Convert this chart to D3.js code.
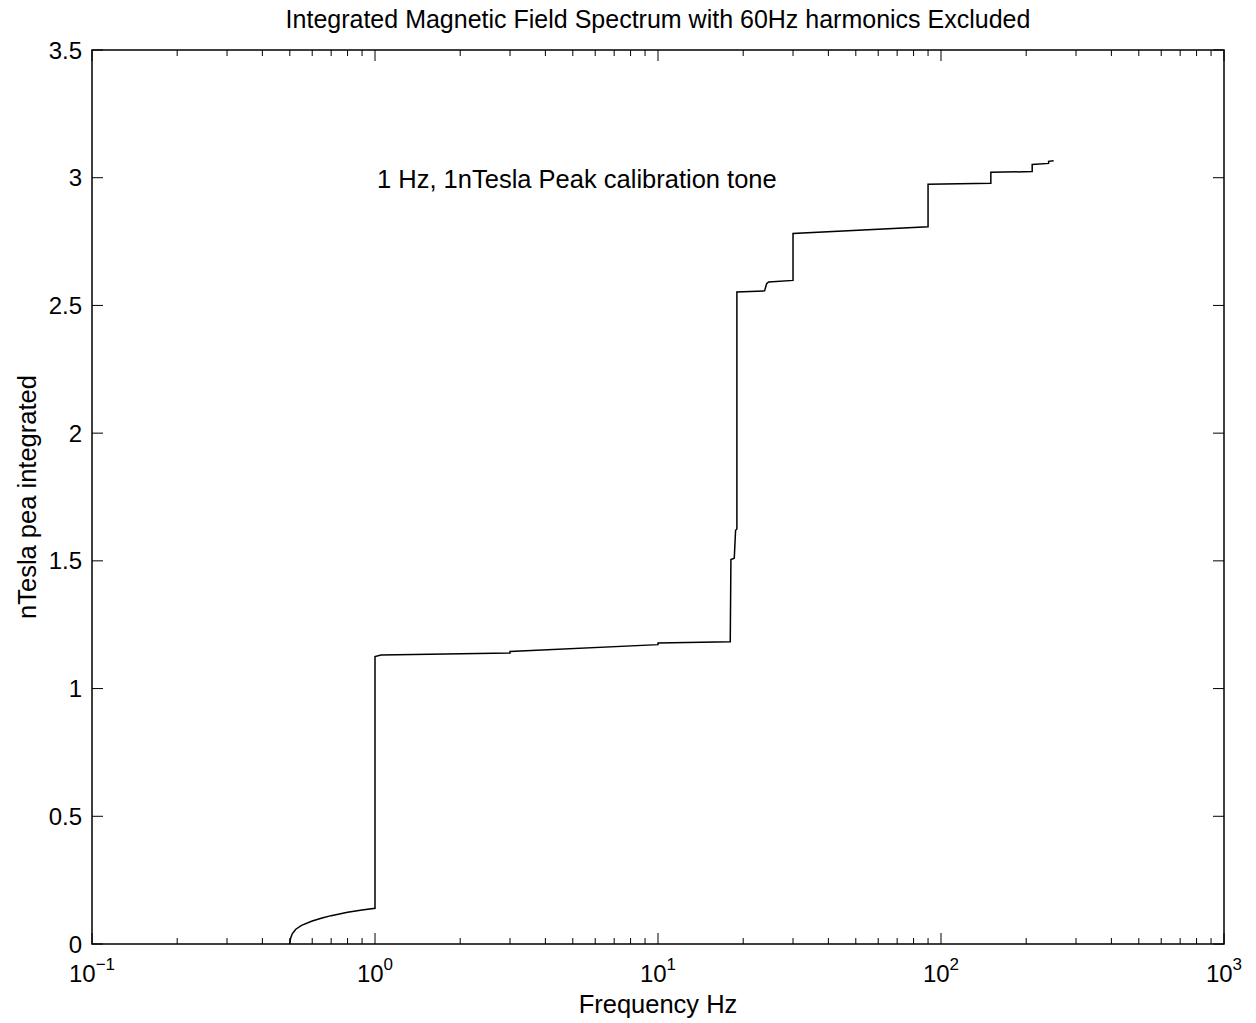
<!DOCTYPE html>
<html>
<head>
<meta charset="utf-8">
<script src="https://cdn.jsdelivr.net/npm/d3@7"></script>
<style>
  body { margin: 0; background: #fff; }
  svg text { font-family: "Liberation Sans", Arial, Helvetica, sans-serif; fill: #000; }
</style>
</head>
<body>
<svg id="chart" width="1256" height="1023"></svg>
<script>
// integrated spectrum, frequency (Hz) vs cumulative nTesla
const freqHz = [0.5, 0.503, 0.51, 0.525, 0.55, 0.6, 0.65, 0.7, 0.8, 0.9, 1.0,
  1.0, 1.05, 3, 3, 10, 10, 18, 18.1, 18.6, 18.8, 19.0, 19.0,
  23.8, 24.2, 24.6, 30, 30, 90, 90, 150, 150, 210, 210, 240, 240, 250];
const nTesla = [0, 0.022, 0.04, 0.058, 0.073, 0.09, 0.102, 0.111, 0.124, 0.133, 0.14,
  1.125, 1.131, 1.139, 1.145, 1.172, 1.178, 1.183, 1.505, 1.51, 1.62, 1.625, 2.553,
  2.557, 2.585, 2.592, 2.598, 2.782, 2.808, 2.974, 2.978, 3.021, 3.024, 3.052, 3.056, 3.064, 3.066];

const xMajor = [-1, 0, 1, 2, 3];          // decade exponents
const yTicks = [0, 0.5, 1, 1.5, 2, 2.5, 3, 3.5];
const yTickLabels = ["0", "0.5", "1", "1.5", "2", "2.5", "3", "3.5"];

const titleText = "Integrated Magnetic Field Spectrum with 60Hz harmonics Excluded";
const xLabel = "Frequency Hz";
const yLabel = "nTesla pea integrated";
const noteText = "1 Hz, 1nTesla Peak calibration tone";
const notePos = [1, 3];

const margin = {top: 50, right: 32, bottom: 79, left: 92};
const W = 1256, H = 1023;
const width = W - margin.left - margin.right;
const height = H - margin.top - margin.bottom;

const svg = d3.select("#chart");
const g = svg.append("g").attr("transform", `translate(${margin.left},${margin.top})`);

const x = d3.scaleLog().domain([0.1, 1000]).range([0, width]);
const y = d3.scaleLinear().domain([0, 3.5]).range([height, 0]);

// curve
const pts = freqHz.map((f, i) => [f, nTesla[i]]);
g.append("path")
  .datum(pts)
  .attr("fill", "none")
  .attr("stroke", "#000")
  .attr("stroke-width", 1.5)
  .attr("d", d3.line().x(d => x(d[0])).y(d => y(d[1])));

// ticks on all four sides, pointing inward
const majorLen = 11, minorLen = 6;
const ticks = g.append("g").attr("stroke", "#000").attr("stroke-width", 1);

const minorF = [];
xMajor.slice(0, -1).forEach(e => {
  for (let k = 2; k <= 9; k++) minorF.push(k * Math.pow(10, e));
});
xMajor.forEach(e => {
  const px = x(Math.pow(10, e));
  ticks.append("line").attr("x1", px).attr("x2", px).attr("y1", height).attr("y2", height - majorLen);
  ticks.append("line").attr("x1", px).attr("x2", px).attr("y1", 0).attr("y2", majorLen);
});
minorF.forEach(f => {
  const px = x(f);
  ticks.append("line").attr("x1", px).attr("x2", px).attr("y1", height).attr("y2", height - minorLen);
  ticks.append("line").attr("x1", px).attr("x2", px).attr("y1", 0).attr("y2", minorLen);
});
yTicks.forEach(v => {
  const py = y(v);
  ticks.append("line").attr("x1", 0).attr("x2", majorLen).attr("y1", py).attr("y2", py);
  ticks.append("line").attr("x1", width).attr("x2", width - majorLen).attr("y1", py).attr("y2", py);
});

// box
g.append("rect")
  .attr("width", width).attr("height", height)
  .attr("fill", "none").attr("stroke", "#000").attr("stroke-width", 1.5);

// y tick labels
g.append("g").selectAll("text")
  .data(yTicks)
  .enter().append("text")
  .attr("x", -10)
  .attr("y", d => y(d))
  .attr("dy", "0.36em")
  .attr("text-anchor", "end")
  .style("font-size", "24px")
  .text((d, i) => yTickLabels[i]);

// x tick labels, 10 with exponent
const xl = g.append("g").selectAll("text")
  .data(xMajor)
  .enter().append("text")
  .attr("x", d => x(Math.pow(10, d)))
  .attr("y", height + 38)
  .attr("text-anchor", "middle")
  .style("font-size", "24px");
xl.append("tspan").text("10");
xl.append("tspan")
  .attr("dy", -12)
  .style("font-size", "17px")
  .text(d => d < 0 ? "\u2212" + Math.abs(d) : d);

// titles
svg.append("text")
  .attr("x", margin.left + width / 2).attr("y", 28)
  .attr("text-anchor", "middle")
  .style("font-size", "25px")
  .text(titleText);

svg.append("text")
  .attr("x", margin.left + width / 2).attr("y", 1013)
  .attr("text-anchor", "middle")
  .style("font-size", "25.5px")
  .text(xLabel);

svg.append("text")
  .attr("transform", `translate(36,${margin.top + height / 2}) rotate(-90)`)
  .attr("text-anchor", "middle")
  .style("font-size", "25.5px")
  .text(yLabel);

g.append("text")
  .attr("x", x(notePos[0]) + 2)
  .attr("y", y(notePos[1]) + 10)
  .style("font-size", "25.5px")
  .text(noteText);
</script>
</body>
</html>
